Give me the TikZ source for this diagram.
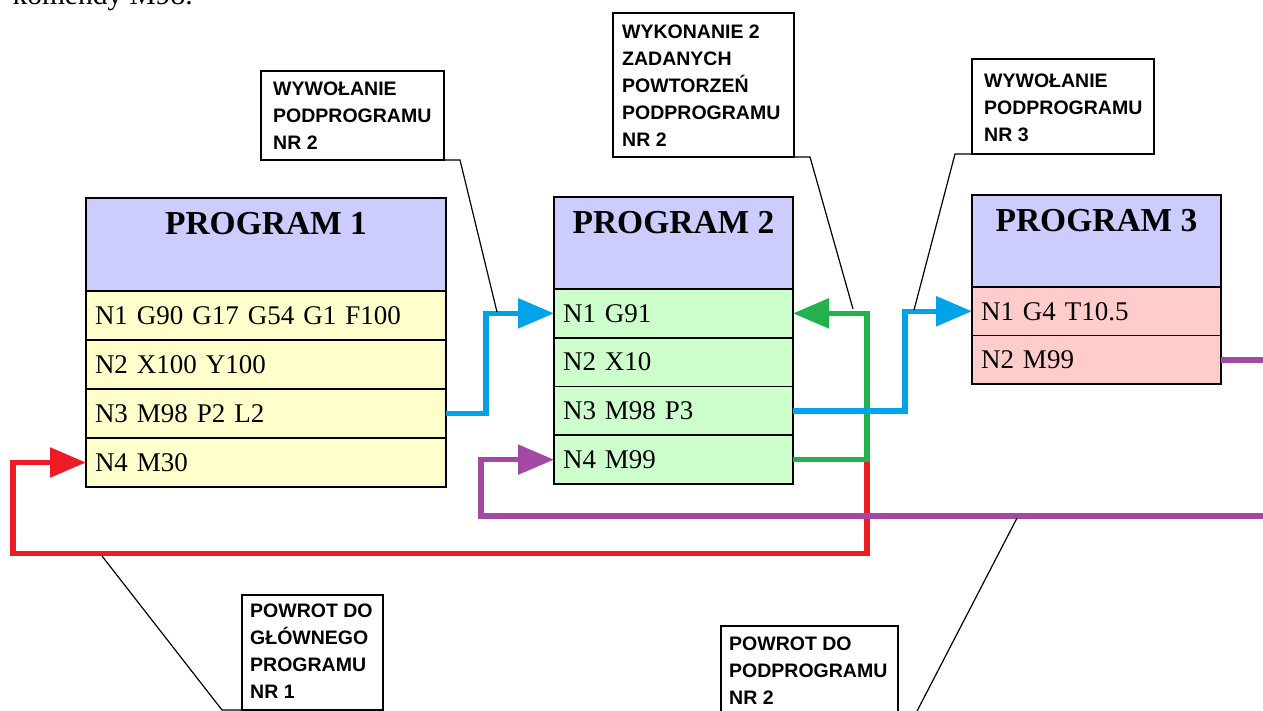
\documentclass[tikz,border=0pt]{standalone}
\usepackage{fontspec}
\setmainfont{Liberation Serif}
\setsansfont{Liberation Sans}
\usetikzlibrary{arrows.meta}

\definecolor{hdrfill}{HTML}{CCCCFF}
\definecolor{rowyellow}{HTML}{FFFFCC}
\definecolor{rowgreen}{HTML}{CCFFCC}
\definecolor{rowpink}{HTML}{FFCCCC}
\definecolor{flowblue}{HTML}{00A2E8}
\definecolor{flowgreen}{HTML}{22B14C}
\definecolor{flowred}{HTML}{ED1C24}
\definecolor{flowpurple}{HTML}{A349A4}

\begin{document}
\begin{tikzpicture}[x=1pt, y=-1pt,
  box/.style={draw=black, line width=1.6pt, inner sep=0pt, outer sep=0pt, anchor=north west},
  hdr/.style={box, fill=hdrfill, text height=37pt, font=\fontsize{33.5}{38}\selectfont\bfseries},
  cell/.style={box, inner xsep=9pt, align=left, font=\fontsize{27}{30}\selectfont},
  p1cell/.style={cell, fill=rowyellow, text width=342pt, minimum height=49pt},
  p2cell/.style={cell, fill=rowgreen, text width=221pt, minimum height=48.75pt},
  p3cell/.style={cell, fill=rowpink, text width=231pt, minimum height=48.5pt},
  flow/.style={line width=5.5pt},
  tip/.style={-{Triangle[length=36pt,width=29pt]}},
  note/.style={draw=black, line width=1.3pt, fill=white, inner sep=0pt, outer sep=0pt, anchor=north west},
  notetext/.style={inner sep=0pt, anchor=north west, align=left,
    font=\fontsize{19.5}{27}\selectfont\sffamily\bfseries},
  leader/.style={draw=black, line width=1.2pt}
]
\useasboundingbox (0,0) rectangle (1263,711);
\clip (0,0) rectangle (1263,711);

% last line of the preceding paragraph
\node[anchor=base east, inner sep=0pt, font=\fontsize{29.5}{32}\selectfont] (intro) at (193,5) {komendy M98.};

% main program
\node[hdr, minimum width=360pt, text depth=56pt] (p1h) at (86,198) {PROGRAM 1};
\node[p1cell] (p1r1) at (p1h.south west) {N1 G90 G17 G54 G1 F100};
\node[p1cell] (p1r2) at (p1r1.south west) {N2 X100 Y100};
\node[p1cell] (p1r3) at (p1r2.south west) {N3 M98 P2 L2};
\node[p1cell] (p1r4) at (p1r3.south west) {N4 M30};

% subprogram 2
\node[hdr, minimum width=239pt, text depth=55pt] (p2h) at (554,197) {PROGRAM 2};
\node[p2cell] (p2r1) at (p2h.south west) {N1 G91};
\node[p2cell] (p2r2) at (p2r1.south west) {N2 X10};
\node[p2cell] (p2r3) at (p2r2.south west) {N3 M98 P3};
\node[p2cell] (p2r4) at (p2r3.south west) {N4 M99};

% subprogram 3
\node[hdr, minimum width=249pt, text depth=55pt] (p3h) at (972,195) {PROGRAM 3};
\node[p3cell] (p3r1) at (p3h.south west) {N1 G4 T10.5};
\node[p3cell] (p3r2) at (p3r1.south west) {N2 M99};

% program flow
\draw[flow, flowred, tip] ([xshift=74pt]p2r4.east) -- ++(0,94)
  -| ([xshift=-73pt]p1r4.west) -- (p1r4.west);
\draw[flow, flowgreen, tip] (p2r4.east) -- ++(74,0) |- (p2r1.east);
\draw[flow, flowblue, tip] (p1r3.east) -- ++(40,0) |- (p2r1.west);
\draw[flow, flowblue, tip] (p2r3.east) -- ++(112,0) |- (p3r1.west);
\draw[flow, flowpurple, tip] (p3r2.east) -- ++(70,0) -- ++(0,156)
  -| ([xshift=-73pt]p2r4.west) -- (p2r4.west);

% callouts
\node[note, minimum width=183pt, minimum height=89pt] (c1) at (261,71) {};
\node[notetext] (c1t) at ([shift={(12,11)}]c1.north west) {WYWOŁANIE\\PODPROGRAMU\\NR 2};

\node[note, minimum width=181pt, minimum height=144pt] (c2) at (613,13) {};
\node[notetext] (c2t) at ([shift={(9,12)}]c2.north west) {WYKONANIE 2\\ZADANYCH\\POWTORZEŃ\\PODPROGRAMU\\NR 2};

\node[note, minimum width=182pt, minimum height=95pt] (c3) at (972,59) {};
\node[notetext] (c3t) at ([shift={(12,15)}]c3.north west) {WYWOŁANIE\\PODPROGRAMU\\NR 3};

\node[note, minimum width=141pt, minimum height=115pt] (c4) at (242,595) {};
\node[notetext] (c4t) at ([shift={(8,9)}]c4.north west) {POWROT DO\\GŁÓWNEGO\\PROGRAMU\\NR 1};

\node[note, minimum width=177pt, minimum height=89pt] (c5) at (721,626) {};
\node[notetext] (c5t) at ([shift={(8,11)}]c5.north west) {POWROT DO\\PODPROGRAMU\\NR 2};

% leader end points on the flow lines
\coordinate (l1) at (497,312);
\coordinate (l2) at (853,309);
\coordinate (l3) at (914,310);
\coordinate (l4) at (102,556);
\coordinate (l5) at (1017,518);

\draw[leader] (c1.south east) -- ++(16,0) -- (l1);
\draw[leader] (c2.south east) -- ++(16,0) -- (l2);
\draw[leader] (c3.south west) -- ++(-17,0) -- (l3);
\draw[leader] (c4.south west) -- ++(-20,0) -- (l4);
\draw[leader] (c5.south east) -- ++(17,0) -- (l5);
\end{tikzpicture}
\end{document}
